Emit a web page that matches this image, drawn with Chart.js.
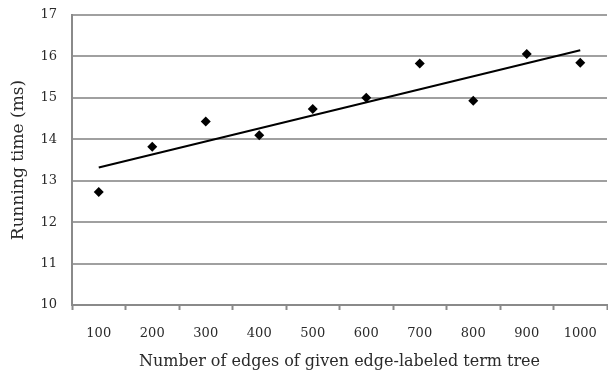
<!DOCTYPE html>
<html>
<head>
<meta charset="utf-8">
<title>Running time by number of edges</title>
<script src="https://cdn.jsdelivr.net/npm/chart.js@4/dist/chart.umd.min.js"></script>
<style>
  html, body { margin: 0; padding: 0; background: #ffffff; }
  canvas { display: block; }
</style>
</head>
<body>
<canvas id="chart" width="608" height="372"></canvas>
<script>
// Number of edges of the term tree (x categories)
const edgeCounts = ['100', '200', '300', '400', '500', '600', '700', '800', '900', '1000'];
// Measured running time in milliseconds
const runningTimeMs = [12.73, 13.82, 14.43, 14.10, 14.73, 15.00, 15.83, 14.93, 16.06, 15.85];
// Linear trend line: value at first and last category
const trendEnds = [13.32, 16.15];
// Y axis range and step
const yMin = 10, yMax = 17, yStep = 1;

const trendData = edgeCounts.map((_, i) =>
  i === 0 ? trendEnds[0] : (i === edgeCounts.length - 1 ? trendEnds[1] : null));

const serif = "'DejaVu Serif', 'Liberation Serif', serif";
const axisGray = '#8a8a8a';
const gridGray = '#a0a0a0';
const textColor = '#2a2a2a';

new Chart(document.getElementById('chart'), {
  type: 'line',
  data: {
    labels: edgeCounts,
    datasets: [
      {
        label: 'Trend',
        data: trendData,
        spanGaps: true,
        borderColor: '#000000',
        borderWidth: 2,
        pointRadius: 0,
        fill: false,
        tension: 0
      },
      {
        label: 'Running time',
        data: runningTimeMs,
        showLine: false,
        pointStyle: 'rectRot',
        pointRadius: 5,
        pointBackgroundColor: '#000000',
        pointBorderColor: '#000000',
        pointBorderWidth: 0
      }
    ]
  },
  options: {
    responsive: false,
    animation: false,
    devicePixelRatio: 1,
    layout: { autoPadding: false, padding: { top: 15, right: 1, left: 0, bottom: 0 } },
    plugins: {
      legend: { display: false },
      tooltip: { enabled: false }
    },
    scales: {
      x: {
        type: 'category',
        offset: true,
        afterFit: (scale) => {
          scale.height = 67;
          // labels sit inside their category slots; no extra side padding needed
          scale.paddingLeft = 0;
          scale.paddingRight = 0;
        },
        grid: {
          offset: true,
          drawOnChartArea: false,
          drawTicks: true,
          tickLength: 5,
          tickWidth: 2,
          tickColor: axisGray
        },
        border: { display: true, color: axisGray, width: 2 },
        ticks: {
          color: textColor,
          font: { family: serif, size: 13 },
          padding: 16,
          maxRotation: 0,
          autoSkip: false
        },
        title: {
          display: true,
          text: 'Number of edges of given edge-labeled term tree',
          color: textColor,
          font: { family: serif, size: 16 },
          padding: { top: 0, bottom: 1 }
        }
      },
      y: {
        min: yMin,
        max: yMax,
        afterFit: (scale) => {
          scale.width = 72;
          scale.paddingTop = 0;
          scale.paddingBottom = 0;
        },
        grid: {
          color: gridGray,
          lineWidth: 2,
          drawTicks: false
        },
        border: { display: true, color: axisGray, width: 2 },
        ticks: {
          stepSize: yStep,
          color: textColor,
          font: { family: serif, size: 13 },
          padding: 15
        },
        title: {
          display: true,
          text: 'Running time (ms)',
          color: textColor,
          font: { family: serif, size: 17 },
          padding: { top: 8, bottom: 0 }
        }
      }
    }
  }
});
</script>
</body>
</html>
